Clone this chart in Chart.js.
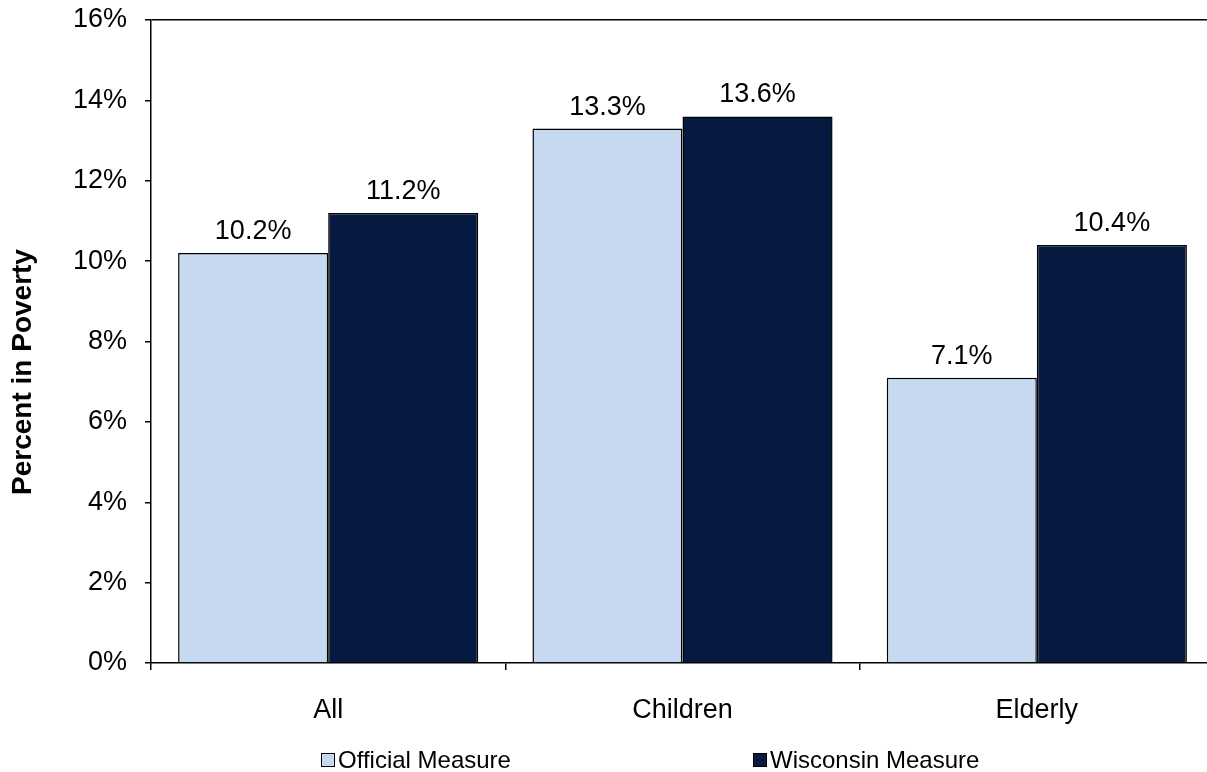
<!DOCTYPE html>
<html>
<head>
<meta charset="utf-8">
<title>Percent in Poverty</title>
<script src="https://cdn.jsdelivr.net/npm/chart.js@4/dist/chart.umd.min.js"></script>
<style>
  html, body { margin: 0; padding: 0; background: #fff; overflow: hidden; }
  #wrap { width: 1207px; height: 772px; overflow: hidden; position: relative; }
  canvas { display: block; }
</style>
</head>
<body>
<div id="wrap"><canvas id="chart" width="1300" height="772"></canvas></div>
<script>
// Poverty rates by group, official vs. Wisconsin measure (percent)
const categories = ['All', 'Children', 'Elderly'];
const seriesNames = ['Official Measure', 'Wisconsin Measure'];
const officialMeasure = [10.2, 13.3, 7.1];
const wisconsinMeasure = [11.2, 13.6, 10.4];
const yTickMin = 0;
const yTickMax = 16;
const yTickStep = 2;

const FONT = '"Liberation Sans", Arial, Helvetica, sans-serif';
const lightBlue = '#C6D9F0';
const navy = '#061A41';

// Value labels above each bar
const barValueLabels = {
  id: 'barValueLabels',
  afterDatasetsDraw(chart) {
    const ctx = chart.ctx;
    ctx.save();
    ctx.font = '27px ' + FONT;
    ctx.fillStyle = '#000';
    ctx.textAlign = 'center';
    ctx.textBaseline = 'alphabetic';
    chart.data.datasets.forEach((ds, di) => {
      const meta = chart.getDatasetMeta(di);
      meta.data.forEach((bar, i) => {
        ctx.fillText(ds.data[i].toFixed(1) + '%', bar.x, bar.y - 14);
      });
    });
    ctx.restore();
  }
};

// Rotated axis title on the left
const axisTitle = {
  id: 'axisTitle',
  afterDraw(chart) {
    const ctx = chart.ctx;
    ctx.save();
    ctx.translate(23, 372);
    ctx.rotate(-Math.PI / 2);
    ctx.font = 'bold 28px ' + FONT;
    ctx.fillStyle = '#000';
    ctx.textAlign = 'center';
    ctx.textBaseline = 'middle';
    ctx.fillText('Percent in Poverty', 0, 0);
    ctx.restore();
  }
};

// Legend row under the category labels
const legendRow = {
  id: 'legendRow',
  afterDraw(chart) {
    const ctx = chart.ctx;
    const slots = [321, 753];
    const cy = 760;
    ctx.save();
    ctx.font = '24px ' + FONT;
    ctx.textBaseline = 'middle';
    ctx.textAlign = 'left';
    chart.data.datasets.forEach((ds, i) => {
      const x = slots[i];
      ctx.fillStyle = ds.backgroundColor;
      ctx.fillRect(x, cy - 7, 14, 14);
      ctx.lineWidth = 1;
      ctx.strokeStyle = '#000';
      ctx.strokeRect(x + 0.5, cy - 6.5, 13, 13);
      ctx.fillStyle = '#000';
      ctx.fillText(ds.label, x + 17, cy + 1);
    });
    ctx.restore();
  }
};

new Chart(document.getElementById('chart'), {
  type: 'bar',
  data: {
    labels: categories,
    datasets: [
      {
        label: seriesNames[0],
        data: officialMeasure,
        backgroundColor: lightBlue,
        borderColor: '#000',
        borderWidth: 1.5,
        categoryPercentage: 0.847,
        barPercentage: 1.0
      },
      {
        label: seriesNames[1],
        data: wisconsinMeasure,
        backgroundColor: navy,
        borderColor: '#000',
        borderWidth: 1.5,
        categoryPercentage: 0.847,
        barPercentage: 1.0
      }
    ]
  },
  options: {
    responsive: false,
    animation: false,
    layout: { padding: { top: 20, right: 86, bottom: 0, left: 0 } },
    plugins: {
      legend: { display: false },
      tooltip: { enabled: false }
    },
    scales: {
      x: {
        offset: true,
        grid: {
          offset: true,
          drawOnChartArea: false,
          drawTicks: true,
          tickLength: 7,
          color: '#000',
          tickColor: '#000',
          lineWidth: 1.5
        },
        border: { display: true, color: '#000', width: 1.5 },
        ticks: {
          color: '#000',
          font: { family: FONT, size: 27 },
          padding: 24,
          maxRotation: 0
        },
        afterFit(scale) {
          scale.height = 109;
          scale.paddingLeft = 0;
          scale.paddingRight = 0;
        }
      },
      y: {
        min: yTickMin,
        max: yTickMax,
        grid: {
          drawOnChartArea: true,
          drawTicks: true,
          tickLength: 6,
          lineWidth: 1.5,
          color: (c) => (c.tick && c.tick.value === yTickMax ? '#000' : 'rgba(0,0,0,0)'),
          tickColor: '#000'
        },
        border: { display: true, color: '#000', width: 1.5 },
        ticks: {
          stepSize: yTickStep,
          color: '#000',
          font: { family: FONT, size: 27 },
          padding: 18,
          callback: (v) => v + '%'
        },
        afterFit(scale) {
          scale.width = 151;
          scale.paddingTop = 0;
          scale.paddingBottom = 0;
        }
      }
    }
  },
  plugins: [barValueLabels, axisTitle, legendRow]
});
</script>
</body>
</html>
